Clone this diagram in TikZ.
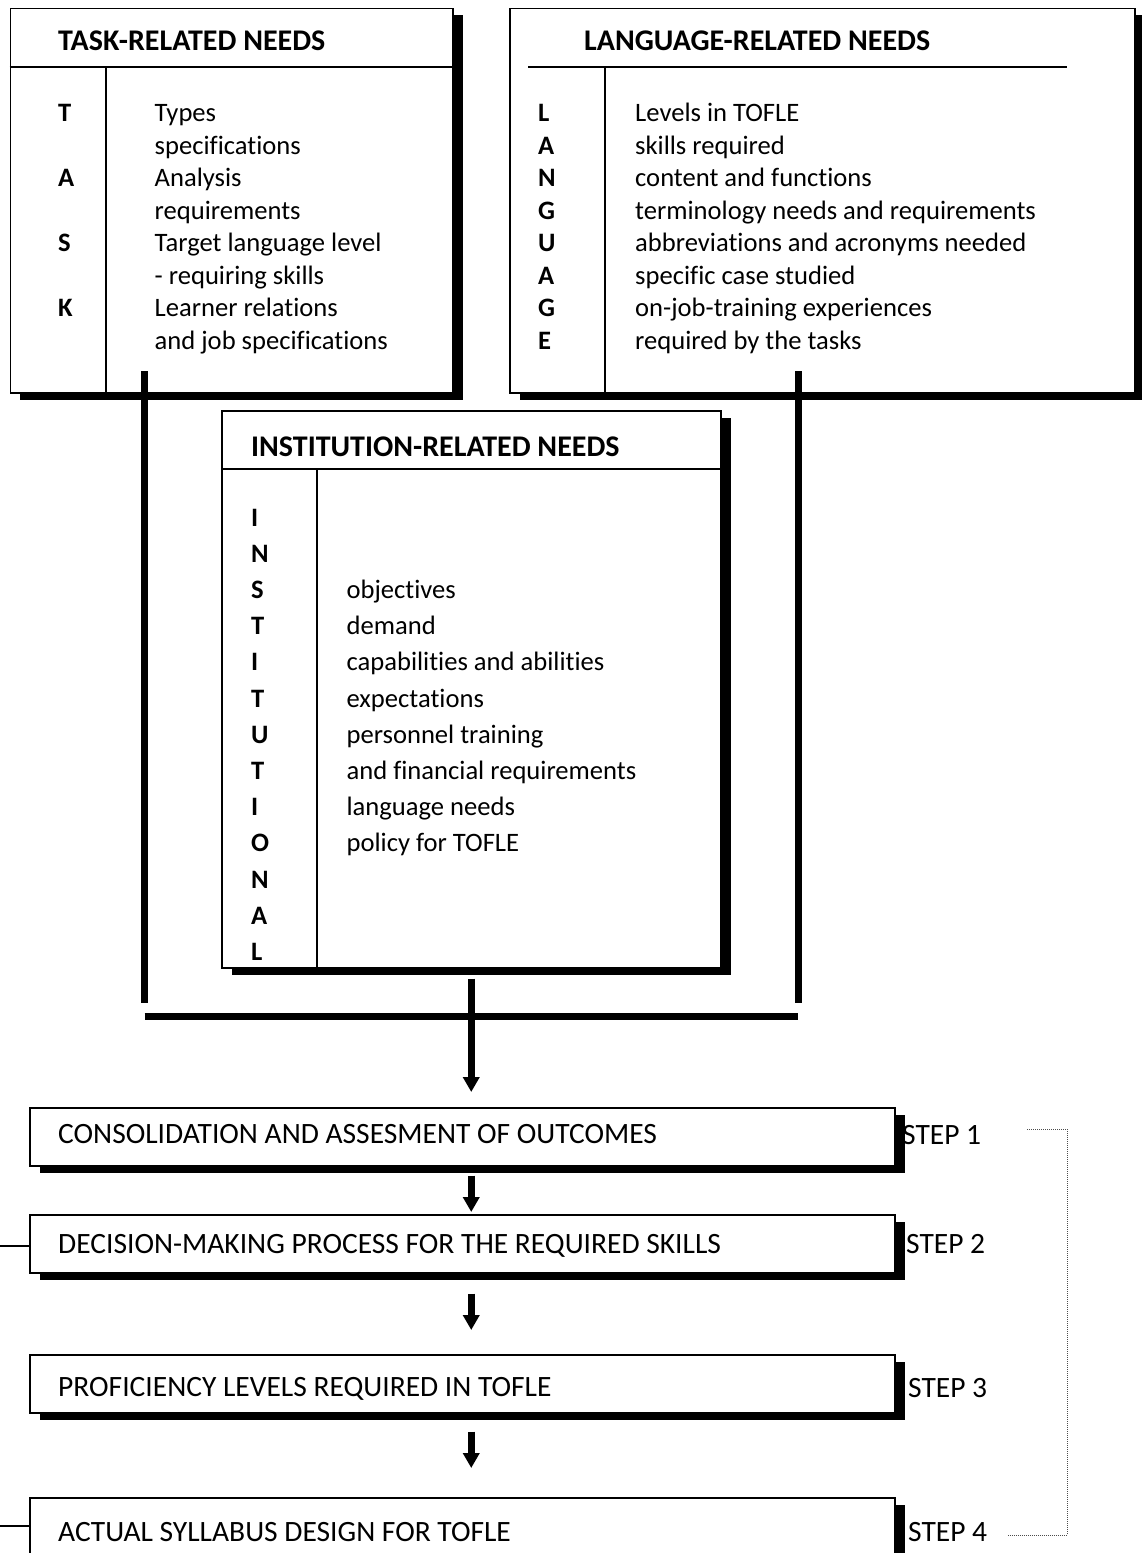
\documentclass[tikz,border=0pt]{standalone}
\usepackage{fontspec}
\setmainfont{Carlito}[Ligatures=NoCommon]
\usetikzlibrary{arrows.meta,shadows,calc}
\begin{document}
\begin{tikzpicture}[x=1pt,y=-1pt,
  box/.style={draw=black,line width=1.5pt,fill=white,rectangle,inner sep=0pt,anchor=north west,
    drop shadow={shadow xshift=10pt,shadow yshift=-7pt,opacity=1,fill=black}},
  rulex/.style={line width=1.5pt},
  hdr/.style={anchor=base west,inner sep=0pt,font=\fontsize{30}{32}\selectfont\bfseries},
  lett/.style={anchor=base west,inner sep=0pt,font=\fontsize{26.6}{30}\selectfont\bfseries},
  txt/.style={anchor=base west,inner sep=0pt,font=\fontsize{26.6}{30}\selectfont},
  btxt/.style={anchor=base west,inner sep=0pt,font=\fontsize{29.5}{32}\selectfont},
  heavy/.style={line width=7pt},
  arr/.style={line width=6.5pt,-{Triangle[width=16pt,length=15pt]}},
  stub/.style={line width=2pt},
  bracket/.style={draw=black!70,line width=1pt,dash pattern=on 1pt off 1pt}]
\useasboundingbox (0,0) rectangle (1141,1553);

% ---------- TASK box
\node[box,minimum width=442.5pt,minimum height=384.5pt] (task) at (9.5,7.5) {};
\draw[rulex] (9.5,67) -- (452,67);
\draw[rulex] (106,67) -- (106,392);
\node[hdr] (taskH) at (58,50) {TASK-RELATED NEEDS};
\foreach \l/\r in {T/0,A/2,S/4,K/6}
  \node[lett] (tl\r) at (58,{121.7+32.5*\r}) {\l};
\foreach \t [count=\i from 0] in {Types,specifications,Analysis,requirements,Target language level,- requiring skills,Learner relations,and job specifications}
  \node[txt] (tc\i) at (154.5,{121.7+32.5*\i}) {\t};

% ---------- LANGUAGE box
\node[box,minimum width=625pt,minimum height=384.5pt] (lang) at (509,7.5) {};
\draw[rulex] (528,67) -- (1067,67);
\draw[rulex] (605,67) -- (605,392);
\node[hdr] (langH) at (584,50) {LANGUAGE-RELATED NEEDS};
\foreach \l [count=\i from 0] in {L,A,N,G,U,A,G,E}
  \node[lett] (ll\i) at (538,{121.7+32.5*\i}) {\l};
\foreach \t [count=\i from 0] in {Levels in TOFLE,skills required,content and functions,terminology needs and requirements,abbreviations and acronyms needed,specific case studied,on-job-training experiences,required by the tasks}
  \node[txt] (lc\i) at (635,{121.7+32.5*\i}) {\t};

% ---------- INSTITUTION box
\node[box,minimum width=499pt,minimum height=557pt] (inst) at (221,410) {};
\draw[rulex] (221,469) -- (720,469);
\draw[rulex] (317,469) -- (317,967);
\node[hdr] (instH) at (251,456.7) {INSTITUTION-RELATED NEEDS};
\foreach \l [count=\i from 0] in {I,N,S,T,I,T,U,T,I,O,N,A,L}
  \node[lett] (il\i) at (251,{526+36.2*\i}) {\l};
\foreach \t [count=\i from 2] in {objectives,demand,capabilities and abilities,expectations,personnel training,and financial requirements,language needs,policy for TOFLE}
  \node[txt] (ic\i) at (346.4,{526+36.2*\i}) {\t};

% ---------- joining lines
\coordinate (tTop) at (144.5,371);
\coordinate (tBot) at (144.5,1003);
\coordinate (lTop) at (798,371);
\coordinate (lBot) at (798,1003);
\coordinate (barL) at (144.5,1016);
\coordinate (barR) at (798,1016);
\draw[heavy] (tTop) -- (tBot);
\draw[heavy] (lTop) -- (lBot);
\draw[heavy] (barL) -- (barR);

% ---------- step boxes
\node[box,minimum width=865pt,minimum height=58pt] (b1) at (29,1107) {};
\node[box,minimum width=865pt,minimum height=58pt] (b2) at (29,1214) {};
\node[box,minimum width=865pt,minimum height=58pt] (b3) at (29,1354) {};
\node[box,minimum width=865pt,minimum height=58pt] (b4) at (29,1497) {};
\node[btxt] (b1t) at (58,1143.5) {CONSOLIDATION AND ASSESMENT OF OUTCOMES};
\node[btxt] (b2t) at (58,1253.5) {DECISION-MAKING PROCESS FOR THE REQUIRED SKILLS};
\node[btxt] (b3t) at (58,1396.5) {PROFICIENCY LEVELS REQUIRED IN TOFLE};
\node[btxt] (b4t) at (58,1541.5) {ACTUAL SYLLABUS DESIGN FOR TOFLE};
\node[btxt] (s1) at (902,1144) {STEP 1};
\node[btxt] (s2) at (906,1253) {STEP 2};
\node[btxt] (s3) at (908,1397) {STEP 3};
\node[btxt] (s4) at (908,1541) {STEP 4};

% ---------- arrows
\draw[arr] ($(inst.south)+(0,10)$) -- ($(b1.north -| inst.south)+(0,-15)$);
\draw[arr] ($(b1.south -| inst.south)+(0,9)$) -- ($(b2.north -| inst.south)+(0,-2)$);
\draw[arr] ($(b2.south -| inst.south)+(0,20)$) -- ($(b3.north -| inst.south)+(0,-24)$);
\draw[arr] ($(b3.south -| inst.south)+(0,18)$) -- ($(b4.north -| inst.south)+(0,-29)$);

% ---------- left stubs
\coordinate (e2) at (0,1246);
\coordinate (e4) at (0,1526);
\draw[stub] (b2.west |- e2) -- (e2);
\draw[stub] (b4.west |- e4) -- (e4);

% ---------- dotted bracket
\coordinate (k1) at (1027,1129);
\coordinate (k2) at (1067,1129);
\coordinate (k3) at (1067,1535);
\coordinate (k4) at (1007,1535);
\draw[bracket] (k1) -- (k2) -- (k3) -- (k4);
\end{tikzpicture}
\end{document}
